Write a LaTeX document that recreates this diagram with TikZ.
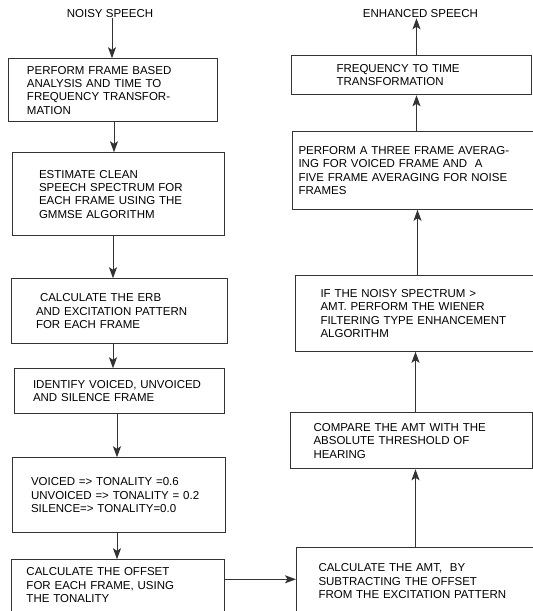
\documentclass[tikz,border=0pt]{standalone}
\usepackage{fontspec}
\setmainfont{Liberation Sans}
\usetikzlibrary{positioning}
\usetikzlibrary{arrows.meta}
\tikzset{%
  flowarrow/.style = {-{Stealth[length=11pt,width=8pt,inset=2.5pt]},
        draw=black!80,line width=1pt},
  blk/.style = {rectangle,draw=black!80,line width=1pt,align=left,
        inner ysep=0pt},
  lbl/.style = {inner sep=0pt}
}

\begin{document}
\begin{tikzpicture}[node distance=30pt and 70pt,
    font=\fontsize{11.5}{13.3}\selectfont]
   \useasboundingbox (0,0) rectangle (533pt,-611pt);
   % left column, top to bottom
   \node[lbl] (noisy) at (110pt,-13.5pt) {NOISY SPEECH};
   \node[blk,text width=171pt,inner xsep=19pt,minimum height=63pt] (frame)
      [below=40.5pt of noisy,xshift=2.5pt]
      {PERFORM FRAME BASED\\ANALYSIS AND TIME TO\\FREQUENCY TRANSFOR-\\MATION};
   \node[blk,text width=158pt,inner xsep=27pt,minimum height=83pt] (gmmse)
      [below=30pt of frame,xshift=5.5pt]
      {ESTIMATE CLEAN\\SPEECH SPECTRUM FOR\\EACH FRAME USING THE\\GMMSE ALGORITHM};
   \node[blk,text width=166pt,inner xsep=25pt,minimum height=65pt] (erb)
      [below=42pt of gmmse,xshift=1pt]
      {\hspace*{4pt}CALCULATE THE ERB\\AND EXCITATION PATTERN\\FOR EACH FRAME};
   \node[blk,text width=172pt,inner xsep=19pt,minimum height=45pt] (vuv)
      [below=24pt of erb]
      {IDENTIFY VOICED, UNVOICED\\AND SILENCE FRAME};
   \node[blk,text width=175pt,inner xsep=19pt,minimum height=75pt] (tonal)
      [below=43pt of vuv,xshift=-0.5pt]
      {VOICED => TONALITY =0.6\\UNVOICED => TONALITY = 0.2\\SILENCE=> TONALITY=0.0};
   \node[blk,text width=182pt,inner xsep=15.5pt,inner ysep=8pt,text depth=60pt] (offset)
      [below=26pt of tonal,xshift=-1pt]
      {CALCULATE THE OFFSET\\FOR EACH FRAME, USING\\THE TONALITY};

   % right column, bottom to top
   \node[blk,text width=201pt,inner xsep=22pt,minimum height=67pt] (amt)
      [right=71.5pt of offset.north east,anchor=north west,yshift=12pt]
      {CALCULATE THE AMT, \ BY\\SUBTRACTING THE OFFSET\\FROM THE EXCITATION PATTERN};
   \node[blk,text width=196pt,inner xsep=23pt,minimum height=56pt] (ath)
      [above=78pt of amt,xshift=-7.5pt]
      {COMPARE THE AMT WITH THE\\ABSOLUTE THRESHOLD OF\\HEARING};
   \node[blk,text width=194pt,inner xsep=25pt,minimum height=75.5pt] (wiener)
      [above=60.5pt of ath,xshift=6pt]
      {IF THE NOISY SPECTRUM >\\AMT. PERFORM THE WIENER\\FILTERING TYPE ENHANCEMENT\\ALGORITHM};
   \node[blk,text width=229pt,inner xsep=6pt,minimum height=77.5pt] (avg)
      [above=65.5pt of wiener,xshift=-4.5pt]
      {PERFORM A THREE FRAME AVERAG-\\ING FOR VOICED FRAME AND \ A\\FIVE FRAME AVERAGING FOR NOISE\\FRAMES};
   \node[blk,text width=150pt,inner xsep=45pt,minimum height=39pt] (ifft)
      [above=36pt of avg,xshift=-1.5pt]
      {FREQUENCY TO TIME\\TRANSFORMATION};
   \node[lbl] (enhanced) [above=37pt of ifft,xshift=9pt] {ENHANCED SPEECH};

   \draw[flowarrow] ([xshift=2pt]noisy.south) -- ([xshift=2pt]noisy.south |- frame.north);
   \draw[flowarrow] ([xshift=1.5pt]frame.south) -- ([xshift=1.5pt]frame.south |- gmmse.north);
   \draw[flowarrow] ([xshift=-5pt]gmmse.south) -- ([xshift=-5pt]gmmse.south |- erb.north);
   \draw[flowarrow] ([xshift=-6pt]erb.south) -- ([xshift=-6pt]erb.south |- vuv.north);
   \draw[flowarrow] ([xshift=-2pt]vuv.south) -- ([xshift=-2pt]vuv.south |- tonal.north);
   \draw[flowarrow] ([xshift=-1.5pt]tonal.south) -- ([xshift=-1.5pt]tonal.south |- offset.north);
   \draw[flowarrow] ([yshift=-20pt]offset.north east) -- ([yshift=-20pt]offset.north east -| amt.west);
   \draw[flowarrow] ([xshift=-3.5pt]amt.north) -- ([xshift=-3.5pt]amt.north |- ath.south);
   \draw[flowarrow] ([xshift=4pt]ath.north) -- ([xshift=4pt]ath.north |- wiener.south);
   \draw[flowarrow] (wiener.north) -- (wiener.north |- avg.south);
   \draw[flowarrow] ([xshift=3.5pt]avg.north) -- ([xshift=3.5pt]avg.north |- ifft.south);
   \draw[flowarrow] ([xshift=5pt]ifft.north) -- ([xshift=5pt]ifft.north |- enhanced.south);
\end{tikzpicture}
\end{document}
